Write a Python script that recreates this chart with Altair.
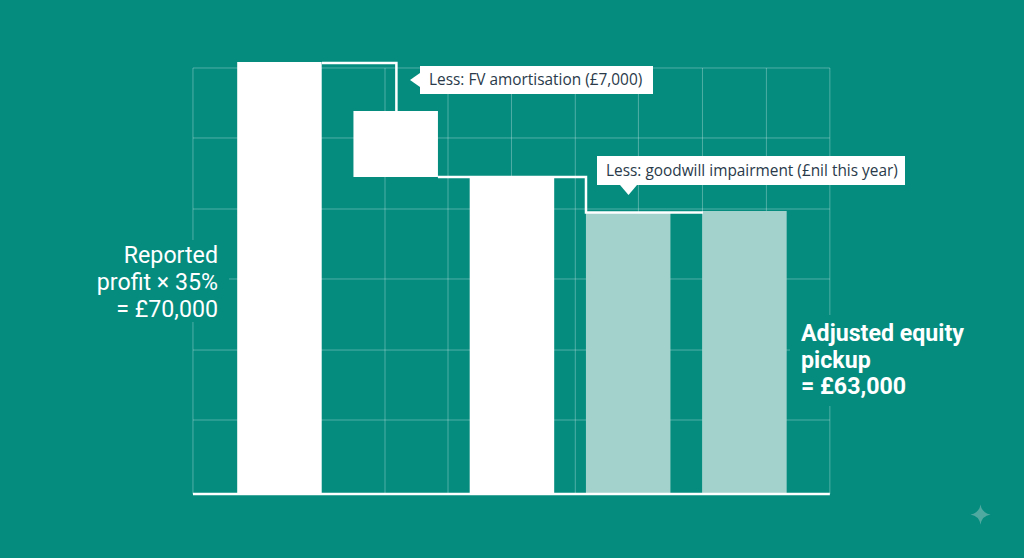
import altair as alt
import pandas as pd

BG = "#058c7f"
LIGHT = "#a3d2cc"
INK = "#2a3a4a"

# Waterfall bars (values in GBP)
bar_pos = [0, 1, 2, 3, 4]
bar_top = [70000, 62060, 51360, 45530, 45850]
bar_base = [0, 51360, 0, 0, 0]
bar_color = ["#ffffff", "#ffffff", "#ffffff", LIGHT, LIGHT]

# Grid
grid_x = [-0.744, -0.196, 0.355, 0.908, 1.45, 1.996, 2.545, 3.088, 3.639, 4.189, 4.735]
grid_y = [11990, 23330, 34840, 46180, 57690, 69030]
grid_top = 69030
grid_left, grid_right = -0.744, 4.735

# Connector lines
conn_id = [1, 1, 1, 2, 2, 2, 2]
conn_order = [0, 1, 2, 0, 1, 2, 3]
conn_x = [0.366, 1.006, 1.006, 1.363, 2.637, 2.637, 3.643]
conn_y = [69840, 69840, 62060, 51360, 51360, 45610, 45610]

bars = pd.DataFrame({"pos": bar_pos, "top": bar_top, "base": bar_base, "color": bar_color})
vgrid = pd.DataFrame({"x": grid_x, "y": [0] * len(grid_x), "y2": [grid_top] * len(grid_x)})
hgrid = pd.DataFrame({"y": grid_y, "x": [grid_left] * len(grid_y), "x2": [grid_right] * len(grid_y)})
base_line = pd.DataFrame({"y": [0], "x": [grid_left], "x2": [grid_right]})
conn = pd.DataFrame({"id": conn_id, "o": conn_order, "x": conn_x, "y": conn_y})

X = alt.Scale(domain=[-2.404, 6.405], nice=False, zero=False, padding=0)
Y = alt.Scale(domain=[-10370, 80048], nice=False, zero=False, padding=0)
xq = lambda f: alt.X(f, type="quantitative", scale=X, axis=None)
yq = lambda f: alt.Y(f, type="quantitative", scale=Y, axis=None)

layers = []

layers.append(alt.Chart(vgrid).mark_rule(color="#ffffff", opacity=0.3, strokeWidth=1).encode(
    x=xq("x"), y=yq("y"), y2="y2"))
layers.append(alt.Chart(hgrid).mark_rule(color="#ffffff", opacity=0.3, strokeWidth=1).encode(
    y=yq("y"), x=xq("x"), x2="x2"))


def box(x0, x1, y0, y1, color):
    return alt.Chart(pd.DataFrame({"k": [0]})).mark_rect(color=color).encode(
        x=alt.value(x0), x2=alt.value(x1), y=alt.value(y0), y2=alt.value(y1))


def label(lines, x, y, size, weight, color, align="left", font="Roboto", line_height=27):
    return alt.Chart(pd.DataFrame({"k": [0]})).mark_text(
        text=lines, align=align, baseline="alphabetic", fontSize=size, fontWeight=weight,
        color=color, font=font, lineHeight=line_height).encode(x=alt.value(x), y=alt.value(y))


def glyph(path, x, y, size, color):
    return alt.Chart(pd.DataFrame({"k": [0]})).mark_point(
        shape=path, size=size, filled=True, color=color, opacity=1, strokeWidth=0).encode(
        x=alt.value(x), y=alt.value(y))


# Masks behind the side labels
layers.append(box(90, 229, 240, 322, BG))
layers.append(box(790, 975, 315, 406, BG))

layers.append(alt.Chart(bars).mark_bar(width=84.5).encode(
    x=xq("pos"), y=yq("top"), y2="base",
    color=alt.Color("color:N", scale=None, legend=None)))

layers.append(alt.Chart(conn).mark_line(color="#ffffff", strokeWidth=2.5, strokeJoin="miter").encode(
    x=xq("x"), y=yq("y"), detail="id:N", order="o:Q"))

layers.append(alt.Chart(base_line).mark_rule(color="#ffffff", strokeWidth=2.5).encode(
    y=yq("y"), x=xq("x"), x2="x2"))

# Callouts
layers.append(box(420, 653, 66, 94, "#ffffff"))
layers.append(glyph("M0,-1L0,1L-1.43,0Z", 420, 80, 196, "#ffffff"))
layers.append(label("Less: FV amortisation (£7,000)", 429, 85, 15.4, 400, INK, font="Open Sans"))
layers.append(box(597, 905, 156, 185, "#ffffff"))
layers.append(glyph("M-1,0L1,0L0,1.18Z", 628.5, 185, 289, "#ffffff"))
layers.append(label("Less: goodwill impairment (£nil this year)", 606, 176, 15.4, 400, INK, font="Open Sans"))

# Side labels
layers.append(label(["Reported", "profit × 35%", "= £70,000"], 218, 263, 23.2, 400, "#ffffff", align="right"))
layers.append(label(["Adjusted equity", "pickup", "= £63,000"], 801, 341, 23.2, 700, "#ffffff", line_height=26.5))

# Sparkle
layers.append(glyph("M0,-1Q0.14,-0.14 1,0Q0.14,0.14 0,1Q-0.14,0.14 -1,0Q-0.14,-0.14 0,-1Z", 980.5, 514.5, 400, "#4fa9a0"))

chart = alt.layer(*layers).properties(
    width=1024, height=558, background=BG, padding=0,
    autosize=alt.AutoSizeParams(type="none", contains="content"),
).configure_view(stroke=None)

chart.save("out.html", embed_options={
    "renderer": "svg", "actions": False,
    "defaultStyle": "html,body{margin:0;padding:0;overflow:hidden;background:#058c7f}",
})
